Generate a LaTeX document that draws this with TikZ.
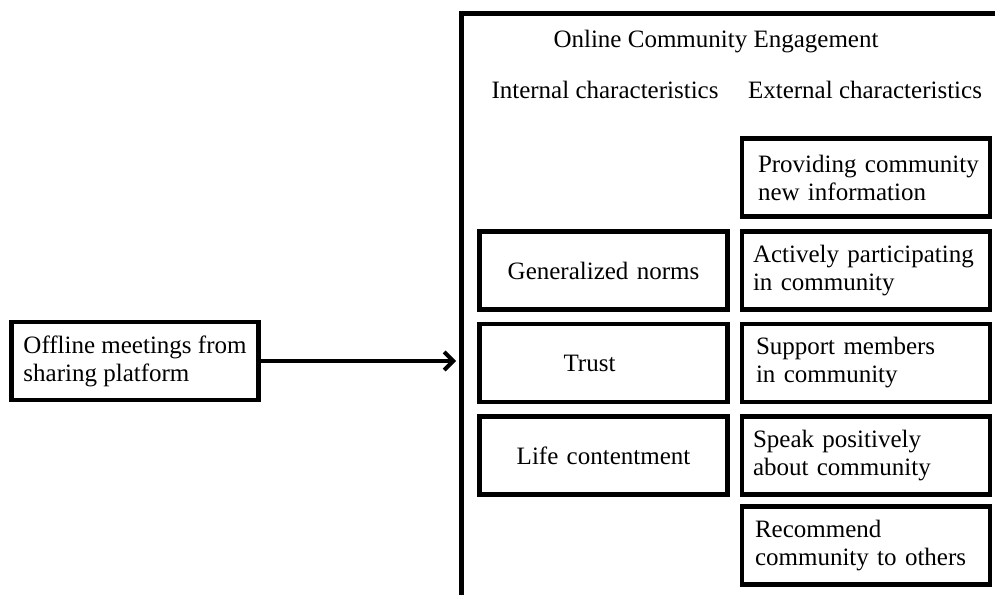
\documentclass[tikz,border=0pt]{standalone}
\usepackage{fontspec}
\setmainfont{Liberation Serif}
\usetikzlibrary{arrows.meta}
\begin{document}
\begin{tikzpicture}[x=1pt,y=-1pt,
  every node/.style={font=\fontsize{25}{28}\selectfont},
  box/.style={draw,line width=4.5pt,minimum width=248pt,minimum height=78pt,inner sep=0pt},
  lbox/.style={box,align=left,text width=226pt},
  cbox/.style={box,align=center,text width=226pt},
  label/.style={inner sep=0pt,anchor=center}]
\useasboundingbox (0,0) rectangle (995,594);
\clip (0,0) rectangle (995,594);
\fill[white] (0,0) rectangle (995,594);
% outer frame
\draw[line width=4.5pt] (1010,13.5) -- (461.5,13.5) -- (461.5,610);
\node[label] (title) at (716,42) {Online Community Engagement};
\node[label] (intl) at (605,90) {Internal characteristics};
\node[label] (extl) at (865,90) {External characteristics};
% right column
\node[lbox] (prov) at (866,177.5) {\hspace*{5pt}Providing community\\\hspace*{5pt}new information};
\node[lbox] (act) at (866,270.5) {Actively participating\\in community};
\node[lbox] (sup) at (866,363) {\hspace*{3pt}Support members\\\hspace*{3pt}in community};
\node[lbox] (speak) at (866,455.5) {Speak positively\\about community};
\node[lbox] (rec) at (866,545.5) {\hspace*{2pt}Recommend\\\hspace*{2pt}community to others};
% left column
\node[cbox] (gen) at (603.5,270.5) {Generalized norms};
\node[cbox] (trust) at (603.5,363) {\hspace*{-28pt}Trust};
\node[cbox] (life) at (603.5,455.5) {Life contentment};
% offline box
\node[box,align=left,minimum width=247pt] (off) at (135,361) {Offline meetings from\\sharing platform};
\coordinate (tip) at (456,361);
\draw[line width=4pt,-{Straight Barb[length=9pt,width=18pt]}] (off.east) -- (tip);
\end{tikzpicture}
\end{document}
